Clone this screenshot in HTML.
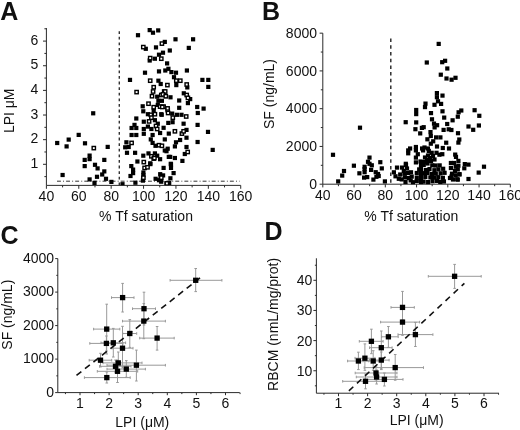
<!DOCTYPE html>
<html><head><meta charset="utf-8"><style>html,body{margin:0;padding:0;background:#fff;width:520px;height:430px;overflow:hidden}svg{display:block;filter:blur(0.3px)}text{font-family:"Liberation Sans", sans-serif}</style></head><body>
<svg width="520" height="430" viewBox="0 0 520 430" font-family='"Liberation Sans", sans-serif' fill="#111">
<rect width="520" height="430" fill="#fff"/>
<text x="0.30" y="19.60" font-size="25" text-anchor="start" font-weight="bold" >A</text>
<text x="262.00" y="19.60" font-size="25" text-anchor="start" font-weight="bold" >B</text>
<text x="0.60" y="244.30" font-size="25" text-anchor="start" font-weight="bold" >C</text>
<text x="264.60" y="239.60" font-size="25" text-anchor="start" font-weight="bold" >D</text>
<line x1="46.40" y1="185.39" x2="240.72" y2="185.39" stroke="#2a2a2a" stroke-width="1" />
<line x1="46.40" y1="185.39" x2="46.40" y2="28.04" stroke="#2a2a2a" stroke-width="1" />
<line x1="46.40" y1="185.39" x2="46.40" y2="188.79" stroke="#2a2a2a" stroke-width="1" />
<text x="46.40" y="201.40" font-size="14" text-anchor="middle" font-weight="normal" >40</text>
<line x1="78.79" y1="185.39" x2="78.79" y2="188.79" stroke="#2a2a2a" stroke-width="1" />
<text x="78.79" y="201.40" font-size="14" text-anchor="middle" font-weight="normal" >60</text>
<line x1="111.17" y1="185.39" x2="111.17" y2="188.79" stroke="#2a2a2a" stroke-width="1" />
<text x="111.17" y="201.40" font-size="14" text-anchor="middle" font-weight="normal" >80</text>
<line x1="143.56" y1="185.39" x2="143.56" y2="188.79" stroke="#2a2a2a" stroke-width="1" />
<text x="143.56" y="201.40" font-size="14" text-anchor="middle" font-weight="normal" >100</text>
<line x1="175.94" y1="185.39" x2="175.94" y2="188.79" stroke="#2a2a2a" stroke-width="1" />
<text x="175.94" y="201.40" font-size="14" text-anchor="middle" font-weight="normal" >120</text>
<line x1="208.33" y1="185.39" x2="208.33" y2="188.79" stroke="#2a2a2a" stroke-width="1" />
<text x="208.33" y="201.40" font-size="14" text-anchor="middle" font-weight="normal" >140</text>
<line x1="240.72" y1="185.39" x2="240.72" y2="188.79" stroke="#2a2a2a" stroke-width="1" />
<text x="240.72" y="201.40" font-size="14" text-anchor="middle" font-weight="normal" >160</text>
<line x1="62.59" y1="185.39" x2="62.59" y2="187.39" stroke="#2a2a2a" stroke-width="1" />
<line x1="94.98" y1="185.39" x2="94.98" y2="187.39" stroke="#2a2a2a" stroke-width="1" />
<line x1="127.37" y1="185.39" x2="127.37" y2="187.39" stroke="#2a2a2a" stroke-width="1" />
<line x1="159.75" y1="185.39" x2="159.75" y2="187.39" stroke="#2a2a2a" stroke-width="1" />
<line x1="192.14" y1="185.39" x2="192.14" y2="187.39" stroke="#2a2a2a" stroke-width="1" />
<line x1="224.52" y1="185.39" x2="224.52" y2="187.39" stroke="#2a2a2a" stroke-width="1" />
<line x1="43.00" y1="164.30" x2="46.40" y2="164.30" stroke="#2a2a2a" stroke-width="1" />
<text x="38.30" y="167.90" font-size="14" text-anchor="end" font-weight="normal" >1</text>
<line x1="43.00" y1="139.66" x2="46.40" y2="139.66" stroke="#2a2a2a" stroke-width="1" />
<text x="38.30" y="143.26" font-size="14" text-anchor="end" font-weight="normal" >2</text>
<line x1="43.00" y1="115.02" x2="46.40" y2="115.02" stroke="#2a2a2a" stroke-width="1" />
<text x="38.30" y="118.62" font-size="14" text-anchor="end" font-weight="normal" >3</text>
<line x1="43.00" y1="90.38" x2="46.40" y2="90.38" stroke="#2a2a2a" stroke-width="1" />
<text x="38.30" y="93.98" font-size="14" text-anchor="end" font-weight="normal" >4</text>
<line x1="43.00" y1="65.74" x2="46.40" y2="65.74" stroke="#2a2a2a" stroke-width="1" />
<text x="38.30" y="69.34" font-size="14" text-anchor="end" font-weight="normal" >5</text>
<line x1="43.00" y1="41.10" x2="46.40" y2="41.10" stroke="#2a2a2a" stroke-width="1" />
<text x="38.30" y="44.70" font-size="14" text-anchor="end" font-weight="normal" >6</text>
<line x1="44.40" y1="176.62" x2="46.40" y2="176.62" stroke="#2a2a2a" stroke-width="1" />
<line x1="44.40" y1="151.98" x2="46.40" y2="151.98" stroke="#2a2a2a" stroke-width="1" />
<line x1="44.40" y1="127.34" x2="46.40" y2="127.34" stroke="#2a2a2a" stroke-width="1" />
<line x1="44.40" y1="102.70" x2="46.40" y2="102.70" stroke="#2a2a2a" stroke-width="1" />
<line x1="44.40" y1="78.06" x2="46.40" y2="78.06" stroke="#2a2a2a" stroke-width="1" />
<line x1="44.40" y1="53.42" x2="46.40" y2="53.42" stroke="#2a2a2a" stroke-width="1" />
<line x1="44.40" y1="28.78" x2="46.40" y2="28.78" stroke="#2a2a2a" stroke-width="1" />
<line x1="322.80" y1="184.20" x2="510.30" y2="184.20" stroke="#2a2a2a" stroke-width="1" />
<line x1="322.80" y1="184.20" x2="322.80" y2="33.16" stroke="#2a2a2a" stroke-width="1" />
<line x1="322.80" y1="184.20" x2="322.80" y2="187.40" stroke="#2a2a2a" stroke-width="1" />
<text x="322.80" y="200.00" font-size="14" text-anchor="middle" font-weight="normal" >40</text>
<line x1="354.05" y1="184.20" x2="354.05" y2="187.40" stroke="#2a2a2a" stroke-width="1" />
<text x="354.05" y="200.00" font-size="14" text-anchor="middle" font-weight="normal" >60</text>
<line x1="385.30" y1="184.20" x2="385.30" y2="187.40" stroke="#2a2a2a" stroke-width="1" />
<text x="385.30" y="200.00" font-size="14" text-anchor="middle" font-weight="normal" >80</text>
<line x1="416.55" y1="184.20" x2="416.55" y2="187.40" stroke="#2a2a2a" stroke-width="1" />
<text x="416.55" y="200.00" font-size="14" text-anchor="middle" font-weight="normal" >100</text>
<line x1="447.80" y1="184.20" x2="447.80" y2="187.40" stroke="#2a2a2a" stroke-width="1" />
<text x="447.80" y="200.00" font-size="14" text-anchor="middle" font-weight="normal" >120</text>
<line x1="479.05" y1="184.20" x2="479.05" y2="187.40" stroke="#2a2a2a" stroke-width="1" />
<text x="479.05" y="200.00" font-size="14" text-anchor="middle" font-weight="normal" >140</text>
<line x1="510.30" y1="184.20" x2="510.30" y2="187.40" stroke="#2a2a2a" stroke-width="1" />
<text x="510.30" y="200.00" font-size="14" text-anchor="middle" font-weight="normal" >160</text>
<line x1="338.43" y1="184.20" x2="338.43" y2="186.20" stroke="#2a2a2a" stroke-width="1" />
<line x1="369.68" y1="184.20" x2="369.68" y2="186.20" stroke="#2a2a2a" stroke-width="1" />
<line x1="400.93" y1="184.20" x2="400.93" y2="186.20" stroke="#2a2a2a" stroke-width="1" />
<line x1="432.18" y1="184.20" x2="432.18" y2="186.20" stroke="#2a2a2a" stroke-width="1" />
<line x1="463.43" y1="184.20" x2="463.43" y2="186.20" stroke="#2a2a2a" stroke-width="1" />
<line x1="494.68" y1="184.20" x2="494.68" y2="186.20" stroke="#2a2a2a" stroke-width="1" />
<line x1="319.60" y1="184.20" x2="322.80" y2="184.20" stroke="#2a2a2a" stroke-width="1" />
<text x="317.00" y="188.80" font-size="14" text-anchor="end" font-weight="normal" >0</text>
<line x1="319.60" y1="146.44" x2="322.80" y2="146.44" stroke="#2a2a2a" stroke-width="1" />
<text x="317.00" y="151.04" font-size="14" text-anchor="end" font-weight="normal" >2000</text>
<line x1="319.60" y1="108.68" x2="322.80" y2="108.68" stroke="#2a2a2a" stroke-width="1" />
<text x="317.00" y="113.28" font-size="14" text-anchor="end" font-weight="normal" >4000</text>
<line x1="319.60" y1="70.92" x2="322.80" y2="70.92" stroke="#2a2a2a" stroke-width="1" />
<text x="317.00" y="75.52" font-size="14" text-anchor="end" font-weight="normal" >6000</text>
<line x1="319.60" y1="33.16" x2="322.80" y2="33.16" stroke="#2a2a2a" stroke-width="1" />
<text x="317.00" y="37.76" font-size="14" text-anchor="end" font-weight="normal" >8000</text>
<line x1="320.80" y1="165.32" x2="322.80" y2="165.32" stroke="#2a2a2a" stroke-width="1" />
<line x1="320.80" y1="127.56" x2="322.80" y2="127.56" stroke="#2a2a2a" stroke-width="1" />
<line x1="320.80" y1="89.80" x2="322.80" y2="89.80" stroke="#2a2a2a" stroke-width="1" />
<line x1="320.80" y1="52.04" x2="322.80" y2="52.04" stroke="#2a2a2a" stroke-width="1" />
<line x1="57.80" y1="392.60" x2="239.76" y2="392.60" stroke="#2a2a2a" stroke-width="1" />
<line x1="57.80" y1="392.60" x2="57.80" y2="258.60" stroke="#2a2a2a" stroke-width="1" />
<line x1="80.00" y1="392.60" x2="80.00" y2="395.20" stroke="#2a2a2a" stroke-width="1" />
<text x="80.00" y="408.30" font-size="14" text-anchor="middle" font-weight="normal" >1</text>
<line x1="109.10" y1="392.60" x2="109.10" y2="395.20" stroke="#2a2a2a" stroke-width="1" />
<text x="109.10" y="408.30" font-size="14" text-anchor="middle" font-weight="normal" >2</text>
<line x1="138.20" y1="392.60" x2="138.20" y2="395.20" stroke="#2a2a2a" stroke-width="1" />
<text x="138.20" y="408.30" font-size="14" text-anchor="middle" font-weight="normal" >3</text>
<line x1="167.30" y1="392.60" x2="167.30" y2="395.20" stroke="#2a2a2a" stroke-width="1" />
<text x="167.30" y="408.30" font-size="14" text-anchor="middle" font-weight="normal" >4</text>
<line x1="196.40" y1="392.60" x2="196.40" y2="395.20" stroke="#2a2a2a" stroke-width="1" />
<text x="196.40" y="408.30" font-size="14" text-anchor="middle" font-weight="normal" >5</text>
<line x1="225.50" y1="392.60" x2="225.50" y2="395.20" stroke="#2a2a2a" stroke-width="1" />
<text x="225.50" y="408.30" font-size="14" text-anchor="middle" font-weight="normal" >6</text>
<line x1="65.45" y1="392.60" x2="65.45" y2="394.10" stroke="#2a2a2a" stroke-width="1" />
<line x1="94.55" y1="392.60" x2="94.55" y2="394.10" stroke="#2a2a2a" stroke-width="1" />
<line x1="123.65" y1="392.60" x2="123.65" y2="394.10" stroke="#2a2a2a" stroke-width="1" />
<line x1="152.75" y1="392.60" x2="152.75" y2="394.10" stroke="#2a2a2a" stroke-width="1" />
<line x1="181.85" y1="392.60" x2="181.85" y2="394.10" stroke="#2a2a2a" stroke-width="1" />
<line x1="210.95" y1="392.60" x2="210.95" y2="394.10" stroke="#2a2a2a" stroke-width="1" />
<line x1="240.05" y1="392.60" x2="240.05" y2="394.10" stroke="#2a2a2a" stroke-width="1" />
<line x1="55.20" y1="392.60" x2="57.80" y2="392.60" stroke="#2a2a2a" stroke-width="1" />
<text x="54.10" y="396.80" font-size="14" text-anchor="end" font-weight="normal" >0</text>
<line x1="55.20" y1="359.10" x2="57.80" y2="359.10" stroke="#2a2a2a" stroke-width="1" />
<text x="54.10" y="363.30" font-size="14" text-anchor="end" font-weight="normal" >1000</text>
<line x1="55.20" y1="325.60" x2="57.80" y2="325.60" stroke="#2a2a2a" stroke-width="1" />
<text x="54.10" y="329.80" font-size="14" text-anchor="end" font-weight="normal" >2000</text>
<line x1="55.20" y1="292.10" x2="57.80" y2="292.10" stroke="#2a2a2a" stroke-width="1" />
<text x="54.10" y="296.30" font-size="14" text-anchor="end" font-weight="normal" >3000</text>
<line x1="55.20" y1="258.60" x2="57.80" y2="258.60" stroke="#2a2a2a" stroke-width="1" />
<text x="54.10" y="262.80" font-size="14" text-anchor="end" font-weight="normal" >4000</text>
<line x1="56.30" y1="375.85" x2="57.80" y2="375.85" stroke="#2a2a2a" stroke-width="1" />
<line x1="56.30" y1="342.35" x2="57.80" y2="342.35" stroke="#2a2a2a" stroke-width="1" />
<line x1="56.30" y1="308.85" x2="57.80" y2="308.85" stroke="#2a2a2a" stroke-width="1" />
<line x1="56.30" y1="275.35" x2="57.80" y2="275.35" stroke="#2a2a2a" stroke-width="1" />
<line x1="316.38" y1="393.21" x2="498.99" y2="393.21" stroke="#2a2a2a" stroke-width="1" />
<line x1="316.38" y1="393.21" x2="316.38" y2="258.29" stroke="#2a2a2a" stroke-width="1" />
<line x1="338.50" y1="393.21" x2="338.50" y2="396.21" stroke="#2a2a2a" stroke-width="1" />
<text x="338.50" y="408.40" font-size="14" text-anchor="middle" font-weight="normal" >1</text>
<line x1="367.60" y1="393.21" x2="367.60" y2="396.21" stroke="#2a2a2a" stroke-width="1" />
<text x="367.60" y="408.40" font-size="14" text-anchor="middle" font-weight="normal" >2</text>
<line x1="396.70" y1="393.21" x2="396.70" y2="396.21" stroke="#2a2a2a" stroke-width="1" />
<text x="396.70" y="408.40" font-size="14" text-anchor="middle" font-weight="normal" >3</text>
<line x1="425.80" y1="393.21" x2="425.80" y2="396.21" stroke="#2a2a2a" stroke-width="1" />
<text x="425.80" y="408.40" font-size="14" text-anchor="middle" font-weight="normal" >4</text>
<line x1="454.90" y1="393.21" x2="454.90" y2="396.21" stroke="#2a2a2a" stroke-width="1" />
<text x="454.90" y="408.40" font-size="14" text-anchor="middle" font-weight="normal" >5</text>
<line x1="484.00" y1="393.21" x2="484.00" y2="396.21" stroke="#2a2a2a" stroke-width="1" />
<text x="484.00" y="408.40" font-size="14" text-anchor="middle" font-weight="normal" >6</text>
<line x1="323.95" y1="393.21" x2="323.95" y2="394.71" stroke="#2a2a2a" stroke-width="1" />
<line x1="353.05" y1="393.21" x2="353.05" y2="394.71" stroke="#2a2a2a" stroke-width="1" />
<line x1="382.15" y1="393.21" x2="382.15" y2="394.71" stroke="#2a2a2a" stroke-width="1" />
<line x1="411.25" y1="393.21" x2="411.25" y2="394.71" stroke="#2a2a2a" stroke-width="1" />
<line x1="440.35" y1="393.21" x2="440.35" y2="394.71" stroke="#2a2a2a" stroke-width="1" />
<line x1="469.45" y1="393.21" x2="469.45" y2="394.71" stroke="#2a2a2a" stroke-width="1" />
<line x1="498.55" y1="393.21" x2="498.55" y2="394.71" stroke="#2a2a2a" stroke-width="1" />
<line x1="313.38" y1="370.75" x2="316.38" y2="370.75" stroke="#2a2a2a" stroke-width="1" />
<text x="312.38" y="375.75" font-size="14" text-anchor="end" font-weight="normal" >10</text>
<line x1="313.38" y1="340.60" x2="316.38" y2="340.60" stroke="#2a2a2a" stroke-width="1" />
<text x="312.38" y="345.60" font-size="14" text-anchor="end" font-weight="normal" >20</text>
<line x1="313.38" y1="310.45" x2="316.38" y2="310.45" stroke="#2a2a2a" stroke-width="1" />
<text x="312.38" y="315.45" font-size="14" text-anchor="end" font-weight="normal" >30</text>
<line x1="313.38" y1="280.30" x2="316.38" y2="280.30" stroke="#2a2a2a" stroke-width="1" />
<text x="312.38" y="285.30" font-size="14" text-anchor="end" font-weight="normal" >40</text>
<line x1="314.88" y1="385.82" x2="316.38" y2="385.82" stroke="#2a2a2a" stroke-width="1" />
<line x1="314.88" y1="355.67" x2="316.38" y2="355.67" stroke="#2a2a2a" stroke-width="1" />
<line x1="314.88" y1="325.52" x2="316.38" y2="325.52" stroke="#2a2a2a" stroke-width="1" />
<line x1="314.88" y1="295.38" x2="316.38" y2="295.38" stroke="#2a2a2a" stroke-width="1" />
<line x1="314.88" y1="265.22" x2="316.38" y2="265.22" stroke="#2a2a2a" stroke-width="1" />
<text x="146.00" y="220.50" font-size="14" text-anchor="middle" font-weight="normal" >% Tf saturation</text>
<text x="411.30" y="220.70" font-size="14" text-anchor="middle" font-weight="normal" >% Tf saturation</text>
<text x="142.30" y="427.00" font-size="14" text-anchor="middle" font-weight="normal" >LPI (&#956;M)</text>
<text x="416.70" y="425.30" font-size="14" text-anchor="middle" font-weight="normal" >LPI (&#956;M)</text>
<text transform="translate(14.2,110.8) rotate(-90)" font-size="14" text-anchor="middle">LPI &#956;M</text>
<text transform="translate(273.6,94) rotate(-90)" font-size="14" text-anchor="middle">SF (ng/mL)</text>
<text transform="translate(11.6,314.7) rotate(-90)" font-size="14" text-anchor="middle">SF (ng/mL)</text>
<text transform="translate(277.8,324.4) rotate(-90)" font-size="14" text-anchor="middle">RBCM (nmL/mg/prot)</text>
<line x1="119.30" y1="31.20" x2="119.30" y2="185.40" stroke="#333" stroke-width="1.4" stroke-dasharray="2.8 2.8"/>
<line x1="57.00" y1="181.20" x2="239.50" y2="181.20" stroke="#333" stroke-width="1" stroke-dasharray="3.9 2.2 0.9 2.1"/>
<line x1="390.80" y1="38.60" x2="390.80" y2="184.00" stroke="#222" stroke-width="1.4" stroke-dasharray="3.5 3.2"/>
<defs><clipPath id="ca"><rect x="40" y="28" width="210" height="157.2"/></clipPath></defs>
<g clip-path="url(#ca)">
<rect x="55.10" y="140.90" width="4.2" height="4.2" fill="#000"/>
<rect x="66.60" y="137.50" width="4.2" height="4.2" fill="#000"/>
<rect x="64.50" y="144.30" width="4.2" height="4.2" fill="#000"/>
<rect x="76.60" y="132.80" width="4.2" height="4.2" fill="#000"/>
<rect x="82.90" y="141.20" width="4.2" height="4.2" fill="#000"/>
<rect x="105.60" y="144.80" width="4.2" height="4.2" fill="#000"/>
<rect x="87.50" y="153.50" width="4.2" height="4.2" fill="#000"/>
<rect x="82.60" y="157.80" width="4.2" height="4.2" fill="#000"/>
<rect x="87.50" y="157.00" width="4.2" height="4.2" fill="#000"/>
<rect x="102.20" y="157.80" width="4.2" height="4.2" fill="#000"/>
<rect x="82.60" y="164.00" width="4.2" height="4.2" fill="#000"/>
<rect x="92.90" y="162.70" width="4.2" height="4.2" fill="#000"/>
<rect x="95.50" y="166.30" width="4.2" height="4.2" fill="#000"/>
<rect x="102.20" y="169.30" width="4.2" height="4.2" fill="#000"/>
<rect x="60.50" y="172.90" width="4.2" height="4.2" fill="#000"/>
<rect x="100.10" y="172.40" width="4.2" height="4.2" fill="#000"/>
<rect x="94.90" y="174.70" width="4.2" height="4.2" fill="#000"/>
<rect x="103.90" y="176.70" width="4.2" height="4.2" fill="#000"/>
<rect x="87.50" y="177.30" width="4.2" height="4.2" fill="#000"/>
<rect x="92.40" y="180.80" width="4.2" height="4.2" fill="#000"/>
<rect x="109.30" y="179.80" width="4.2" height="4.2" fill="#000"/>
<rect x="91.10" y="111.20" width="4.2" height="4.2" fill="#000"/>
<rect x="135.90" y="33.10" width="4.2" height="4.2" fill="#000"/>
<rect x="147.60" y="28.00" width="4.2" height="4.2" fill="#000"/>
<rect x="150.90" y="30.60" width="4.2" height="4.2" fill="#000"/>
<rect x="156.10" y="28.30" width="4.2" height="4.2" fill="#000"/>
<rect x="162.70" y="39.80" width="4.2" height="4.2" fill="#000"/>
<rect x="143.70" y="46.70" width="4.2" height="4.2" fill="#000"/>
<rect x="153.90" y="45.30" width="4.2" height="4.2" fill="#000"/>
<rect x="167.70" y="48.40" width="4.2" height="4.2" fill="#000"/>
<rect x="156.90" y="52.60" width="4.2" height="4.2" fill="#000"/>
<rect x="160.90" y="50.60" width="4.2" height="4.2" fill="#000"/>
<rect x="152.80" y="56.60" width="4.2" height="4.2" fill="#000"/>
<rect x="147.60" y="58.40" width="4.2" height="4.2" fill="#000"/>
<rect x="165.00" y="61.30" width="4.2" height="4.2" fill="#000"/>
<rect x="142.90" y="70.60" width="4.2" height="4.2" fill="#000"/>
<rect x="156.90" y="69.30" width="4.2" height="4.2" fill="#000"/>
<rect x="163.20" y="68.40" width="4.2" height="4.2" fill="#000"/>
<rect x="166.30" y="66.70" width="4.2" height="4.2" fill="#000"/>
<rect x="173.40" y="37.20" width="4.2" height="4.2" fill="#000"/>
<rect x="191.00" y="37.20" width="4.2" height="4.2" fill="#000"/>
<rect x="186.70" y="45.80" width="4.2" height="4.2" fill="#000"/>
<rect x="169.30" y="70.00" width="4.2" height="4.2" fill="#000"/>
<rect x="173.90" y="70.60" width="4.2" height="4.2" fill="#000"/>
<rect x="184.80" y="68.40" width="4.2" height="4.2" fill="#000"/>
<rect x="127.90" y="77.80" width="4.2" height="4.2" fill="#000"/>
<rect x="156.30" y="78.60" width="4.2" height="4.2" fill="#000"/>
<rect x="158.60" y="81.90" width="4.2" height="4.2" fill="#000"/>
<rect x="155.10" y="94.60" width="4.2" height="4.2" fill="#000"/>
<rect x="163.80" y="94.10" width="4.2" height="4.2" fill="#000"/>
<rect x="156.30" y="98.70" width="4.2" height="4.2" fill="#000"/>
<rect x="159.80" y="98.70" width="4.2" height="4.2" fill="#000"/>
<rect x="155.70" y="102.80" width="4.2" height="4.2" fill="#000"/>
<rect x="151.60" y="108.60" width="4.2" height="4.2" fill="#000"/>
<rect x="140.60" y="104.20" width="4.2" height="4.2" fill="#000"/>
<rect x="141.20" y="109.20" width="4.2" height="4.2" fill="#000"/>
<rect x="134.20" y="116.40" width="4.2" height="4.2" fill="#000"/>
<rect x="159.20" y="112.10" width="4.2" height="4.2" fill="#000"/>
<rect x="145.80" y="112.10" width="4.2" height="4.2" fill="#000"/>
<rect x="171.90" y="75.10" width="4.2" height="4.2" fill="#000"/>
<rect x="174.20" y="83.00" width="4.2" height="4.2" fill="#000"/>
<rect x="185.20" y="85.30" width="4.2" height="4.2" fill="#000"/>
<rect x="200.30" y="77.80" width="4.2" height="4.2" fill="#000"/>
<rect x="206.20" y="77.80" width="4.2" height="4.2" fill="#000"/>
<rect x="206.20" y="84.80" width="4.2" height="4.2" fill="#000"/>
<rect x="168.40" y="95.20" width="4.2" height="4.2" fill="#000"/>
<rect x="177.10" y="98.40" width="4.2" height="4.2" fill="#000"/>
<rect x="181.70" y="91.20" width="4.2" height="4.2" fill="#000"/>
<rect x="188.10" y="97.00" width="4.2" height="4.2" fill="#000"/>
<rect x="185.80" y="101.00" width="4.2" height="4.2" fill="#000"/>
<rect x="195.10" y="104.90" width="4.2" height="4.2" fill="#000"/>
<rect x="201.50" y="106.50" width="4.2" height="4.2" fill="#000"/>
<rect x="195.70" y="110.90" width="4.2" height="4.2" fill="#000"/>
<rect x="177.10" y="105.70" width="4.2" height="4.2" fill="#000"/>
<rect x="159.60" y="112.70" width="4.2" height="4.2" fill="#000"/>
<rect x="170.10" y="111.50" width="4.2" height="4.2" fill="#000"/>
<rect x="174.80" y="112.70" width="4.2" height="4.2" fill="#000"/>
<rect x="179.40" y="112.70" width="4.2" height="4.2" fill="#000"/>
<rect x="141.70" y="119.60" width="4.2" height="4.2" fill="#000"/>
<rect x="152.80" y="118.10" width="4.2" height="4.2" fill="#000"/>
<rect x="155.70" y="121.60" width="4.2" height="4.2" fill="#000"/>
<rect x="166.20" y="120.80" width="4.2" height="4.2" fill="#000"/>
<rect x="132.40" y="122.80" width="4.2" height="4.2" fill="#000"/>
<rect x="129.50" y="125.90" width="4.2" height="4.2" fill="#000"/>
<rect x="134.20" y="125.90" width="4.2" height="4.2" fill="#000"/>
<rect x="141.70" y="126.90" width="4.2" height="4.2" fill="#000"/>
<rect x="145.80" y="124.50" width="4.2" height="4.2" fill="#000"/>
<rect x="149.30" y="126.90" width="4.2" height="4.2" fill="#000"/>
<rect x="161.50" y="125.70" width="4.2" height="4.2" fill="#000"/>
<rect x="129.50" y="132.90" width="4.2" height="4.2" fill="#000"/>
<rect x="134.20" y="132.90" width="4.2" height="4.2" fill="#000"/>
<rect x="141.70" y="131.70" width="4.2" height="4.2" fill="#000"/>
<rect x="150.50" y="132.90" width="4.2" height="4.2" fill="#000"/>
<rect x="158.00" y="130.90" width="4.2" height="4.2" fill="#000"/>
<rect x="166.70" y="131.50" width="4.2" height="4.2" fill="#000"/>
<rect x="148.70" y="137.30" width="4.2" height="4.2" fill="#000"/>
<rect x="162.70" y="137.30" width="4.2" height="4.2" fill="#000"/>
<rect x="124.30" y="140.20" width="4.2" height="4.2" fill="#000"/>
<rect x="150.50" y="140.80" width="4.2" height="4.2" fill="#000"/>
<rect x="123.10" y="145.20" width="4.2" height="4.2" fill="#000"/>
<rect x="126.60" y="144.90" width="4.2" height="4.2" fill="#000"/>
<rect x="153.40" y="143.70" width="4.2" height="4.2" fill="#000"/>
<rect x="165.60" y="146.60" width="4.2" height="4.2" fill="#000"/>
<rect x="162.70" y="148.40" width="4.2" height="4.2" fill="#000"/>
<rect x="124.90" y="150.70" width="4.2" height="4.2" fill="#000"/>
<rect x="133.00" y="150.70" width="4.2" height="4.2" fill="#000"/>
<rect x="141.20" y="153.60" width="4.2" height="4.2" fill="#000"/>
<rect x="146.40" y="151.30" width="4.2" height="4.2" fill="#000"/>
<rect x="152.80" y="151.30" width="4.2" height="4.2" fill="#000"/>
<rect x="155.10" y="153.60" width="4.2" height="4.2" fill="#000"/>
<rect x="158.00" y="157.10" width="4.2" height="4.2" fill="#000"/>
<rect x="135.30" y="159.40" width="4.2" height="4.2" fill="#000"/>
<rect x="148.10" y="161.20" width="4.2" height="4.2" fill="#000"/>
<rect x="166.70" y="154.80" width="4.2" height="4.2" fill="#000"/>
<rect x="170.50" y="120.10" width="4.2" height="4.2" fill="#000"/>
<rect x="181.50" y="121.60" width="4.2" height="4.2" fill="#000"/>
<rect x="195.50" y="122.80" width="4.2" height="4.2" fill="#000"/>
<rect x="184.40" y="127.80" width="4.2" height="4.2" fill="#000"/>
<rect x="205.90" y="129.80" width="4.2" height="4.2" fill="#000"/>
<rect x="178.00" y="137.90" width="4.2" height="4.2" fill="#000"/>
<rect x="184.40" y="135.60" width="4.2" height="4.2" fill="#000"/>
<rect x="173.90" y="140.20" width="4.2" height="4.2" fill="#000"/>
<rect x="195.50" y="139.90" width="4.2" height="4.2" fill="#000"/>
<rect x="172.80" y="144.30" width="4.2" height="4.2" fill="#000"/>
<rect x="184.40" y="144.90" width="4.2" height="4.2" fill="#000"/>
<rect x="182.70" y="151.90" width="4.2" height="4.2" fill="#000"/>
<rect x="210.60" y="147.80" width="4.2" height="4.2" fill="#000"/>
<rect x="168.10" y="154.80" width="4.2" height="4.2" fill="#000"/>
<rect x="172.80" y="155.90" width="4.2" height="4.2" fill="#000"/>
<rect x="180.30" y="158.80" width="4.2" height="4.2" fill="#000"/>
<rect x="168.70" y="161.70" width="4.2" height="4.2" fill="#000"/>
<rect x="129.20" y="164.00" width="4.2" height="4.2" fill="#000"/>
<rect x="131.00" y="167.50" width="4.2" height="4.2" fill="#000"/>
<rect x="131.00" y="171.00" width="4.2" height="4.2" fill="#000"/>
<rect x="128.40" y="173.90" width="4.2" height="4.2" fill="#000"/>
<rect x="148.30" y="162.00" width="4.2" height="4.2" fill="#000"/>
<rect x="141.30" y="170.40" width="4.2" height="4.2" fill="#000"/>
<rect x="141.30" y="172.90" width="4.2" height="4.2" fill="#000"/>
<rect x="140.80" y="178.50" width="4.2" height="4.2" fill="#000"/>
<rect x="161.50" y="165.80" width="4.2" height="4.2" fill="#000"/>
<rect x="158.10" y="172.10" width="4.2" height="4.2" fill="#000"/>
<rect x="161.00" y="173.30" width="4.2" height="4.2" fill="#000"/>
<rect x="153.50" y="176.70" width="4.2" height="4.2" fill="#000"/>
<rect x="156.90" y="178.10" width="4.2" height="4.2" fill="#000"/>
<rect x="164.40" y="149.10" width="4.2" height="4.2" fill="#000"/>
<rect x="168.90" y="162.30" width="4.2" height="4.2" fill="#000"/>
<rect x="168.90" y="165.80" width="4.2" height="4.2" fill="#000"/>
<rect x="171.50" y="171.00" width="4.2" height="4.2" fill="#000"/>
<rect x="168.30" y="176.20" width="4.2" height="4.2" fill="#000"/>
<rect x="158.50" y="176.20" width="4.2" height="4.2" fill="#000"/>
<rect x="120.40" y="182.10" width="4.2" height="4.2" fill="#000"/>
<rect x="133.30" y="180.60" width="4.2" height="4.2" fill="#000"/>
<rect x="164.40" y="181.30" width="4.2" height="4.2" fill="#000"/>
<rect x="167.10" y="180.80" width="4.2" height="4.2" fill="#000"/>
<rect x="159.10" y="179.60" width="4.2" height="4.2" fill="#000"/>
<rect x="92.15" y="146.45" width="3.3" height="3.3" fill="#fff" stroke="#000" stroke-width="1.4"/>
<rect x="160.25" y="41.95" width="3.3" height="3.3" fill="#fff" stroke="#000" stroke-width="1.4"/>
<rect x="141.65" y="45.45" width="3.3" height="3.3" fill="#fff" stroke="#000" stroke-width="1.4"/>
<rect x="148.55" y="56.45" width="3.3" height="3.3" fill="#fff" stroke="#000" stroke-width="1.4"/>
<rect x="159.65" y="57.05" width="3.3" height="3.3" fill="#fff" stroke="#000" stroke-width="1.4"/>
<rect x="134.95" y="90.45" width="3.3" height="3.3" fill="#fff" stroke="#000" stroke-width="1.4"/>
<rect x="148.55" y="79.05" width="3.3" height="3.3" fill="#fff" stroke="#000" stroke-width="1.4"/>
<rect x="165.75" y="83.45" width="3.3" height="3.3" fill="#fff" stroke="#000" stroke-width="1.4"/>
<rect x="152.05" y="85.55" width="3.3" height="3.3" fill="#fff" stroke="#000" stroke-width="1.4"/>
<rect x="151.45" y="89.85" width="3.3" height="3.3" fill="#fff" stroke="#000" stroke-width="1.4"/>
<rect x="162.55" y="89.85" width="3.3" height="3.3" fill="#fff" stroke="#000" stroke-width="1.4"/>
<rect x="150.35" y="94.55" width="3.3" height="3.3" fill="#fff" stroke="#000" stroke-width="1.4"/>
<rect x="159.65" y="93.35" width="3.3" height="3.3" fill="#fff" stroke="#000" stroke-width="1.4"/>
<rect x="146.85" y="102.05" width="3.3" height="3.3" fill="#fff" stroke="#000" stroke-width="1.4"/>
<rect x="152.05" y="105.55" width="3.3" height="3.3" fill="#fff" stroke="#000" stroke-width="1.4"/>
<rect x="158.45" y="104.95" width="3.3" height="3.3" fill="#fff" stroke="#000" stroke-width="1.4"/>
<rect x="161.95" y="104.95" width="3.3" height="3.3" fill="#fff" stroke="#000" stroke-width="1.4"/>
<rect x="166.05" y="108.45" width="3.3" height="3.3" fill="#fff" stroke="#000" stroke-width="1.4"/>
<rect x="149.15" y="113.15" width="3.3" height="3.3" fill="#fff" stroke="#000" stroke-width="1.4"/>
<rect x="153.25" y="112.55" width="3.3" height="3.3" fill="#fff" stroke="#000" stroke-width="1.4"/>
<rect x="149.75" y="116.05" width="3.3" height="3.3" fill="#fff" stroke="#000" stroke-width="1.4"/>
<rect x="174.65" y="79.05" width="3.3" height="3.3" fill="#fff" stroke="#000" stroke-width="1.4"/>
<rect x="178.65" y="79.05" width="3.3" height="3.3" fill="#fff" stroke="#000" stroke-width="1.4"/>
<rect x="185.05" y="82.85" width="3.3" height="3.3" fill="#fff" stroke="#000" stroke-width="1.4"/>
<rect x="163.55" y="89.85" width="3.3" height="3.3" fill="#fff" stroke="#000" stroke-width="1.4"/>
<rect x="161.25" y="92.75" width="3.3" height="3.3" fill="#fff" stroke="#000" stroke-width="1.4"/>
<rect x="164.15" y="94.55" width="3.3" height="3.3" fill="#fff" stroke="#000" stroke-width="1.4"/>
<rect x="185.05" y="93.35" width="3.3" height="3.3" fill="#fff" stroke="#000" stroke-width="1.4"/>
<rect x="186.25" y="96.25" width="3.3" height="3.3" fill="#fff" stroke="#000" stroke-width="1.4"/>
<rect x="160.65" y="105.35" width="3.3" height="3.3" fill="#fff" stroke="#000" stroke-width="1.4"/>
<rect x="165.95" y="106.75" width="3.3" height="3.3" fill="#fff" stroke="#000" stroke-width="1.4"/>
<rect x="166.45" y="111.35" width="3.3" height="3.3" fill="#fff" stroke="#000" stroke-width="1.4"/>
<rect x="184.55" y="114.85" width="3.3" height="3.3" fill="#fff" stroke="#000" stroke-width="1.4"/>
<rect x="171.15" y="116.05" width="3.3" height="3.3" fill="#fff" stroke="#000" stroke-width="1.4"/>
<rect x="147.45" y="119.75" width="3.3" height="3.3" fill="#fff" stroke="#000" stroke-width="1.4"/>
<rect x="154.35" y="124.35" width="3.3" height="3.3" fill="#fff" stroke="#000" stroke-width="1.4"/>
<rect x="155.55" y="127.35" width="3.3" height="3.3" fill="#fff" stroke="#000" stroke-width="1.4"/>
<rect x="129.95" y="141.25" width="3.3" height="3.3" fill="#fff" stroke="#000" stroke-width="1.4"/>
<rect x="157.35" y="143.55" width="3.3" height="3.3" fill="#fff" stroke="#000" stroke-width="1.4"/>
<rect x="160.25" y="144.15" width="3.3" height="3.3" fill="#fff" stroke="#000" stroke-width="1.4"/>
<rect x="149.75" y="154.65" width="3.3" height="3.3" fill="#fff" stroke="#000" stroke-width="1.4"/>
<rect x="152.05" y="156.95" width="3.3" height="3.3" fill="#fff" stroke="#000" stroke-width="1.4"/>
<rect x="142.15" y="160.45" width="3.3" height="3.3" fill="#fff" stroke="#000" stroke-width="1.4"/>
<rect x="173.25" y="129.65" width="3.3" height="3.3" fill="#fff" stroke="#000" stroke-width="1.4"/>
<rect x="180.25" y="131.95" width="3.3" height="3.3" fill="#fff" stroke="#000" stroke-width="1.4"/>
<rect x="181.95" y="129.65" width="3.3" height="3.3" fill="#fff" stroke="#000" stroke-width="1.4"/>
<rect x="186.05" y="150.35" width="3.3" height="3.3" fill="#fff" stroke="#000" stroke-width="1.4"/>
<rect x="142.95" y="166.25" width="3.3" height="3.3" fill="#fff" stroke="#000" stroke-width="1.4"/>
<rect x="145.85" y="165.65" width="3.3" height="3.3" fill="#fff" stroke="#000" stroke-width="1.4"/>
<rect x="141.75" y="176.05" width="3.3" height="3.3" fill="#fff" stroke="#000" stroke-width="1.4"/>
<rect x="159.65" y="176.05" width="3.3" height="3.3" fill="#fff" stroke="#000" stroke-width="1.4"/>
<rect x="152.75" y="156.45" width="3.3" height="3.3" fill="#fff" stroke="#000" stroke-width="1.4"/>
<rect x="165.25" y="181.75" width="3.3" height="3.3" fill="#fff" stroke="#000" stroke-width="1.4"/>
</g>
<rect x="357.90" y="125.60" width="4.2" height="4.2" fill="#000"/>
<rect x="330.90" y="152.70" width="4.2" height="4.2" fill="#000"/>
<rect x="341.90" y="168.90" width="4.2" height="4.2" fill="#000"/>
<rect x="340.10" y="173.50" width="4.2" height="4.2" fill="#000"/>
<rect x="336.10" y="179.30" width="4.2" height="4.2" fill="#000"/>
<rect x="351.80" y="163.60" width="4.2" height="4.2" fill="#000"/>
<rect x="357.30" y="171.20" width="4.2" height="4.2" fill="#000"/>
<rect x="367.40" y="155.50" width="4.2" height="4.2" fill="#000"/>
<rect x="365.90" y="159.70" width="4.2" height="4.2" fill="#000"/>
<rect x="367.40" y="161.70" width="4.2" height="4.2" fill="#000"/>
<rect x="369.70" y="163.20" width="4.2" height="4.2" fill="#000"/>
<rect x="362.50" y="164.70" width="4.2" height="4.2" fill="#000"/>
<rect x="362.50" y="167.00" width="4.2" height="4.2" fill="#000"/>
<rect x="362.50" y="170.10" width="4.2" height="4.2" fill="#000"/>
<rect x="369.00" y="167.80" width="4.2" height="4.2" fill="#000"/>
<rect x="378.20" y="160.10" width="4.2" height="4.2" fill="#000"/>
<rect x="379.70" y="166.30" width="4.2" height="4.2" fill="#000"/>
<rect x="373.60" y="170.10" width="4.2" height="4.2" fill="#000"/>
<rect x="375.90" y="171.90" width="4.2" height="4.2" fill="#000"/>
<rect x="376.60" y="173.90" width="4.2" height="4.2" fill="#000"/>
<rect x="374.30" y="174.70" width="4.2" height="4.2" fill="#000"/>
<rect x="362.00" y="175.50" width="4.2" height="4.2" fill="#000"/>
<rect x="365.10" y="175.00" width="4.2" height="4.2" fill="#000"/>
<rect x="371.30" y="177.50" width="4.2" height="4.2" fill="#000"/>
<rect x="382.80" y="179.30" width="4.2" height="4.2" fill="#000"/>
<rect x="436.60" y="41.80" width="4.2" height="4.2" fill="#000"/>
<rect x="424.70" y="60.40" width="4.2" height="4.2" fill="#000"/>
<rect x="440.10" y="60.10" width="4.2" height="4.2" fill="#000"/>
<rect x="443.00" y="58.70" width="4.2" height="4.2" fill="#000"/>
<rect x="445.20" y="66.40" width="4.2" height="4.2" fill="#000"/>
<rect x="438.70" y="72.60" width="4.2" height="4.2" fill="#000"/>
<rect x="444.40" y="76.40" width="4.2" height="4.2" fill="#000"/>
<rect x="449.50" y="77.60" width="4.2" height="4.2" fill="#000"/>
<rect x="453.40" y="75.70" width="4.2" height="4.2" fill="#000"/>
<rect x="440.40" y="93.50" width="4.2" height="4.2" fill="#000"/>
<rect x="439.00" y="101.80" width="4.2" height="4.2" fill="#000"/>
<rect x="440.40" y="109.20" width="4.2" height="4.2" fill="#000"/>
<rect x="456.50" y="110.20" width="4.2" height="4.2" fill="#000"/>
<rect x="459.20" y="108.40" width="4.2" height="4.2" fill="#000"/>
<rect x="472.50" y="108.10" width="4.2" height="4.2" fill="#000"/>
<rect x="477.20" y="113.70" width="4.2" height="4.2" fill="#000"/>
<rect x="442.10" y="115.50" width="4.2" height="4.2" fill="#000"/>
<rect x="455.70" y="114.60" width="4.2" height="4.2" fill="#000"/>
<rect x="450.50" y="118.20" width="4.2" height="4.2" fill="#000"/>
<rect x="434.80" y="91.00" width="4.2" height="4.2" fill="#000"/>
<rect x="434.80" y="95.10" width="4.2" height="4.2" fill="#000"/>
<rect x="435.90" y="99.20" width="4.2" height="4.2" fill="#000"/>
<rect x="432.40" y="102.70" width="4.2" height="4.2" fill="#000"/>
<rect x="423.40" y="101.50" width="4.2" height="4.2" fill="#000"/>
<rect x="422.90" y="105.00" width="4.2" height="4.2" fill="#000"/>
<rect x="414.10" y="107.90" width="4.2" height="4.2" fill="#000"/>
<rect x="414.10" y="112.00" width="4.2" height="4.2" fill="#000"/>
<rect x="428.90" y="111.00" width="4.2" height="4.2" fill="#000"/>
<rect x="429.90" y="117.20" width="4.2" height="4.2" fill="#000"/>
<rect x="403.60" y="120.10" width="4.2" height="4.2" fill="#000"/>
<rect x="414.10" y="120.30" width="4.2" height="4.2" fill="#000"/>
<rect x="431.90" y="121.50" width="4.2" height="4.2" fill="#000"/>
<rect x="435.00" y="123.10" width="4.2" height="4.2" fill="#000"/>
<rect x="432.50" y="125.30" width="4.2" height="4.2" fill="#000"/>
<rect x="419.80" y="125.80" width="4.2" height="4.2" fill="#000"/>
<rect x="421.60" y="125.10" width="4.2" height="4.2" fill="#000"/>
<rect x="413.30" y="127.10" width="4.2" height="4.2" fill="#000"/>
<rect x="441.50" y="127.80" width="4.2" height="4.2" fill="#000"/>
<rect x="418.10" y="131.30" width="4.2" height="4.2" fill="#000"/>
<rect x="428.40" y="130.00" width="4.2" height="4.2" fill="#000"/>
<rect x="445.10" y="121.90" width="4.2" height="4.2" fill="#000"/>
<rect x="466.40" y="124.40" width="4.2" height="4.2" fill="#000"/>
<rect x="471.10" y="127.70" width="4.2" height="4.2" fill="#000"/>
<rect x="476.80" y="123.40" width="4.2" height="4.2" fill="#000"/>
<rect x="446.60" y="127.20" width="4.2" height="4.2" fill="#000"/>
<rect x="449.30" y="127.90" width="4.2" height="4.2" fill="#000"/>
<rect x="455.90" y="131.10" width="4.2" height="4.2" fill="#000"/>
<rect x="457.20" y="137.40" width="4.2" height="4.2" fill="#000"/>
<rect x="456.30" y="140.50" width="4.2" height="4.2" fill="#000"/>
<rect x="453.10" y="152.50" width="4.2" height="4.2" fill="#000"/>
<rect x="453.90" y="154.80" width="4.2" height="4.2" fill="#000"/>
<rect x="456.30" y="158.80" width="4.2" height="4.2" fill="#000"/>
<rect x="448.80" y="160.90" width="4.2" height="4.2" fill="#000"/>
<rect x="452.00" y="160.90" width="4.2" height="4.2" fill="#000"/>
<rect x="462.70" y="162.00" width="4.2" height="4.2" fill="#000"/>
<rect x="466.40" y="162.50" width="4.2" height="4.2" fill="#000"/>
<rect x="462.20" y="166.20" width="4.2" height="4.2" fill="#000"/>
<rect x="481.90" y="164.60" width="4.2" height="4.2" fill="#000"/>
<rect x="448.80" y="165.90" width="4.2" height="4.2" fill="#000"/>
<rect x="453.60" y="164.60" width="4.2" height="4.2" fill="#000"/>
<rect x="456.30" y="163.60" width="4.2" height="4.2" fill="#000"/>
<rect x="455.70" y="167.30" width="4.2" height="4.2" fill="#000"/>
<rect x="476.60" y="170.50" width="4.2" height="4.2" fill="#000"/>
<rect x="449.90" y="171.60" width="4.2" height="4.2" fill="#000"/>
<rect x="453.60" y="173.20" width="4.2" height="4.2" fill="#000"/>
<rect x="457.30" y="172.10" width="4.2" height="4.2" fill="#000"/>
<rect x="455.70" y="177.50" width="4.2" height="4.2" fill="#000"/>
<rect x="466.40" y="176.90" width="4.2" height="4.2" fill="#000"/>
<rect x="457.40" y="172.30" width="4.2" height="4.2" fill="#000"/>
<rect x="455.10" y="177.20" width="4.2" height="4.2" fill="#000"/>
<rect x="447.90" y="175.90" width="4.2" height="4.2" fill="#000"/>
<rect x="450.90" y="177.40" width="4.2" height="4.2" fill="#000"/>
<rect x="449.40" y="174.40" width="4.2" height="4.2" fill="#000"/>
<rect x="452.90" y="168.90" width="4.2" height="4.2" fill="#000"/>
<rect x="394.90" y="165.50" width="4.2" height="4.2" fill="#000"/>
<rect x="399.90" y="165.50" width="4.2" height="4.2" fill="#000"/>
<rect x="403.90" y="163.00" width="4.2" height="4.2" fill="#000"/>
<rect x="391.80" y="170.20" width="4.2" height="4.2" fill="#000"/>
<rect x="393.40" y="174.20" width="4.2" height="4.2" fill="#000"/>
<rect x="398.10" y="172.40" width="4.2" height="4.2" fill="#000"/>
<rect x="401.70" y="168.80" width="4.2" height="4.2" fill="#000"/>
<rect x="402.40" y="171.60" width="4.2" height="4.2" fill="#000"/>
<rect x="402.80" y="175.30" width="4.2" height="4.2" fill="#000"/>
<rect x="396.70" y="176.70" width="4.2" height="4.2" fill="#000"/>
<rect x="399.60" y="177.30" width="4.2" height="4.2" fill="#000"/>
<rect x="406.00" y="170.90" width="4.2" height="4.2" fill="#000"/>
<rect x="406.80" y="176.00" width="4.2" height="4.2" fill="#000"/>
<rect x="408.90" y="170.20" width="4.2" height="4.2" fill="#000"/>
<rect x="409.60" y="174.50" width="4.2" height="4.2" fill="#000"/>
<rect x="408.60" y="178.30" width="4.2" height="4.2" fill="#000"/>
<rect x="414.70" y="170.90" width="4.2" height="4.2" fill="#000"/>
<rect x="414.70" y="175.50" width="4.2" height="4.2" fill="#000"/>
<rect x="414.70" y="178.90" width="4.2" height="4.2" fill="#000"/>
<rect x="417.10" y="167.30" width="4.2" height="4.2" fill="#000"/>
<rect x="418.90" y="162.90" width="4.2" height="4.2" fill="#000"/>
<rect x="418.90" y="166.40" width="4.2" height="4.2" fill="#000"/>
<rect x="418.90" y="169.90" width="4.2" height="4.2" fill="#000"/>
<rect x="418.90" y="173.40" width="4.2" height="4.2" fill="#000"/>
<rect x="418.90" y="176.90" width="4.2" height="4.2" fill="#000"/>
<rect x="418.90" y="179.90" width="4.2" height="4.2" fill="#000"/>
<rect x="404.90" y="166.40" width="4.2" height="4.2" fill="#000"/>
<rect x="410.90" y="180.10" width="4.2" height="4.2" fill="#000"/>
<rect x="403.40" y="179.90" width="4.2" height="4.2" fill="#000"/>
<rect x="421.62" y="162.84" width="4.2" height="4.2" fill="#000"/>
<rect x="430.16" y="163.19" width="4.2" height="4.2" fill="#000"/>
<rect x="433.49" y="163.41" width="4.2" height="4.2" fill="#000"/>
<rect x="437.56" y="163.29" width="4.2" height="4.2" fill="#000"/>
<rect x="423.78" y="167.92" width="4.2" height="4.2" fill="#000"/>
<rect x="427.40" y="166.96" width="4.2" height="4.2" fill="#000"/>
<rect x="432.30" y="168.12" width="4.2" height="4.2" fill="#000"/>
<rect x="436.32" y="167.23" width="4.2" height="4.2" fill="#000"/>
<rect x="441.06" y="166.67" width="4.2" height="4.2" fill="#000"/>
<rect x="422.47" y="171.06" width="4.2" height="4.2" fill="#000"/>
<rect x="425.43" y="170.79" width="4.2" height="4.2" fill="#000"/>
<rect x="429.79" y="171.91" width="4.2" height="4.2" fill="#000"/>
<rect x="433.69" y="171.53" width="4.2" height="4.2" fill="#000"/>
<rect x="438.52" y="171.20" width="4.2" height="4.2" fill="#000"/>
<rect x="442.48" y="170.70" width="4.2" height="4.2" fill="#000"/>
<rect x="423.20" y="174.93" width="4.2" height="4.2" fill="#000"/>
<rect x="428.29" y="175.28" width="4.2" height="4.2" fill="#000"/>
<rect x="431.80" y="175.54" width="4.2" height="4.2" fill="#000"/>
<rect x="436.13" y="175.08" width="4.2" height="4.2" fill="#000"/>
<rect x="440.77" y="175.72" width="4.2" height="4.2" fill="#000"/>
<rect x="421.49" y="179.52" width="4.2" height="4.2" fill="#000"/>
<rect x="426.04" y="180.00" width="4.2" height="4.2" fill="#000"/>
<rect x="430.47" y="179.06" width="4.2" height="4.2" fill="#000"/>
<rect x="434.97" y="178.79" width="4.2" height="4.2" fill="#000"/>
<rect x="438.17" y="179.81" width="4.2" height="4.2" fill="#000"/>
<rect x="441.84" y="179.38" width="4.2" height="4.2" fill="#000"/>
<rect x="425.30" y="137.20" width="4.2" height="4.2" fill="#000"/>
<rect x="428.70" y="133.90" width="4.2" height="4.2" fill="#000"/>
<rect x="434.00" y="135.30" width="4.2" height="4.2" fill="#000"/>
<rect x="438.30" y="135.30" width="4.2" height="4.2" fill="#000"/>
<rect x="444.10" y="140.60" width="4.2" height="4.2" fill="#000"/>
<rect x="446.90" y="146.40" width="4.2" height="4.2" fill="#000"/>
<rect x="431.10" y="139.20" width="4.2" height="4.2" fill="#000"/>
<rect x="428.70" y="141.60" width="4.2" height="4.2" fill="#000"/>
<rect x="434.90" y="144.40" width="4.2" height="4.2" fill="#000"/>
<rect x="440.70" y="145.90" width="4.2" height="4.2" fill="#000"/>
<rect x="408.00" y="146.40" width="4.2" height="4.2" fill="#000"/>
<rect x="406.10" y="148.30" width="4.2" height="4.2" fill="#000"/>
<rect x="406.10" y="151.20" width="4.2" height="4.2" fill="#000"/>
<rect x="413.80" y="144.90" width="4.2" height="4.2" fill="#000"/>
<rect x="413.80" y="148.30" width="4.2" height="4.2" fill="#000"/>
<rect x="415.70" y="152.10" width="4.2" height="4.2" fill="#000"/>
<rect x="413.80" y="155.50" width="4.2" height="4.2" fill="#000"/>
<rect x="413.80" y="160.30" width="4.2" height="4.2" fill="#000"/>
<rect x="420.00" y="146.40" width="4.2" height="4.2" fill="#000"/>
<rect x="422.40" y="145.40" width="4.2" height="4.2" fill="#000"/>
<rect x="421.00" y="148.30" width="4.2" height="4.2" fill="#000"/>
<rect x="425.80" y="146.40" width="4.2" height="4.2" fill="#000"/>
<rect x="426.70" y="148.80" width="4.2" height="4.2" fill="#000"/>
<rect x="429.60" y="150.70" width="4.2" height="4.2" fill="#000"/>
<rect x="434.40" y="150.70" width="4.2" height="4.2" fill="#000"/>
<rect x="437.30" y="152.60" width="4.2" height="4.2" fill="#000"/>
<rect x="440.20" y="152.10" width="4.2" height="4.2" fill="#000"/>
<rect x="403.70" y="161.70" width="4.2" height="4.2" fill="#000"/>
<rect x="421.90" y="159.90" width="4.2" height="4.2" fill="#000"/>
<rect x="424.90" y="157.90" width="4.2" height="4.2" fill="#000"/>
<rect x="427.90" y="155.90" width="4.2" height="4.2" fill="#000"/>
<rect x="430.90" y="153.90" width="4.2" height="4.2" fill="#000"/>
<rect x="422.90" y="155.40" width="4.2" height="4.2" fill="#000"/>
<rect x="425.90" y="153.40" width="4.2" height="4.2" fill="#000"/>
<rect x="428.90" y="158.90" width="4.2" height="4.2" fill="#000"/>
<rect x="425.40" y="161.40" width="4.2" height="4.2" fill="#000"/>
<rect x="420.40" y="161.90" width="4.2" height="4.2" fill="#000"/>
<rect x="432.40" y="157.40" width="4.2" height="4.2" fill="#000"/>
<rect x="418.40" y="159.40" width="4.2" height="4.2" fill="#000"/>
<line x1="170.10" y1="280.30" x2="221.90" y2="280.30" stroke="#999" stroke-width="1" />
<line x1="195.70" y1="268.50" x2="195.70" y2="291.60" stroke="#999" stroke-width="1" />
<line x1="170.10" y1="279.00" x2="170.10" y2="281.60" stroke="#999" stroke-width="1" />
<line x1="221.90" y1="279.00" x2="221.90" y2="281.60" stroke="#999" stroke-width="1" />
<line x1="194.40" y1="268.50" x2="197.00" y2="268.50" stroke="#999" stroke-width="1" />
<line x1="194.40" y1="291.60" x2="197.00" y2="291.60" stroke="#999" stroke-width="1" />
<line x1="111.50" y1="297.60" x2="134.00" y2="297.60" stroke="#999" stroke-width="1" />
<line x1="122.60" y1="283.40" x2="122.60" y2="312.00" stroke="#999" stroke-width="1" />
<line x1="111.50" y1="296.30" x2="111.50" y2="298.90" stroke="#999" stroke-width="1" />
<line x1="134.00" y1="296.30" x2="134.00" y2="298.90" stroke="#999" stroke-width="1" />
<line x1="121.30" y1="283.40" x2="123.90" y2="283.40" stroke="#999" stroke-width="1" />
<line x1="121.30" y1="312.00" x2="123.90" y2="312.00" stroke="#999" stroke-width="1" />
<line x1="132.50" y1="308.70" x2="155.50" y2="308.70" stroke="#999" stroke-width="1" />
<line x1="144.00" y1="292.20" x2="144.00" y2="325.00" stroke="#999" stroke-width="1" />
<line x1="132.50" y1="307.40" x2="132.50" y2="310.00" stroke="#999" stroke-width="1" />
<line x1="155.50" y1="307.40" x2="155.50" y2="310.00" stroke="#999" stroke-width="1" />
<line x1="142.70" y1="292.20" x2="145.30" y2="292.20" stroke="#999" stroke-width="1" />
<line x1="142.70" y1="325.00" x2="145.30" y2="325.00" stroke="#999" stroke-width="1" />
<line x1="122.50" y1="321.10" x2="165.40" y2="321.10" stroke="#999" stroke-width="1" />
<line x1="143.80" y1="303.50" x2="143.80" y2="338.70" stroke="#999" stroke-width="1" />
<line x1="122.50" y1="319.80" x2="122.50" y2="322.40" stroke="#999" stroke-width="1" />
<line x1="165.40" y1="319.80" x2="165.40" y2="322.40" stroke="#999" stroke-width="1" />
<line x1="142.50" y1="303.50" x2="145.10" y2="303.50" stroke="#999" stroke-width="1" />
<line x1="142.50" y1="338.70" x2="145.10" y2="338.70" stroke="#999" stroke-width="1" />
<line x1="93.60" y1="329.10" x2="119.80" y2="329.10" stroke="#999" stroke-width="1" />
<line x1="106.70" y1="304.20" x2="106.70" y2="354.00" stroke="#999" stroke-width="1" />
<line x1="93.60" y1="327.80" x2="93.60" y2="330.40" stroke="#999" stroke-width="1" />
<line x1="119.80" y1="327.80" x2="119.80" y2="330.40" stroke="#999" stroke-width="1" />
<line x1="105.40" y1="304.20" x2="108.00" y2="304.20" stroke="#999" stroke-width="1" />
<line x1="105.40" y1="354.00" x2="108.00" y2="354.00" stroke="#999" stroke-width="1" />
<line x1="122.70" y1="333.50" x2="136.70" y2="333.50" stroke="#999" stroke-width="1" />
<line x1="129.80" y1="319.60" x2="129.80" y2="347.40" stroke="#999" stroke-width="1" />
<line x1="122.70" y1="332.20" x2="122.70" y2="334.80" stroke="#999" stroke-width="1" />
<line x1="136.70" y1="332.20" x2="136.70" y2="334.80" stroke="#999" stroke-width="1" />
<line x1="128.50" y1="319.60" x2="131.10" y2="319.60" stroke="#999" stroke-width="1" />
<line x1="128.50" y1="347.40" x2="131.10" y2="347.40" stroke="#999" stroke-width="1" />
<line x1="139.70" y1="338.10" x2="174.20" y2="338.10" stroke="#999" stroke-width="1" />
<line x1="157.10" y1="326.50" x2="157.10" y2="350.10" stroke="#999" stroke-width="1" />
<line x1="139.70" y1="336.80" x2="139.70" y2="339.40" stroke="#999" stroke-width="1" />
<line x1="174.20" y1="336.80" x2="174.20" y2="339.40" stroke="#999" stroke-width="1" />
<line x1="155.80" y1="326.50" x2="158.40" y2="326.50" stroke="#999" stroke-width="1" />
<line x1="155.80" y1="350.10" x2="158.40" y2="350.10" stroke="#999" stroke-width="1" />
<line x1="89.80" y1="343.40" x2="123.00" y2="343.40" stroke="#999" stroke-width="1" />
<line x1="106.40" y1="336.00" x2="106.40" y2="351.00" stroke="#999" stroke-width="1" />
<line x1="89.80" y1="342.10" x2="89.80" y2="344.70" stroke="#999" stroke-width="1" />
<line x1="123.00" y1="342.10" x2="123.00" y2="344.70" stroke="#999" stroke-width="1" />
<line x1="105.10" y1="336.00" x2="107.70" y2="336.00" stroke="#999" stroke-width="1" />
<line x1="105.10" y1="351.00" x2="107.70" y2="351.00" stroke="#999" stroke-width="1" />
<line x1="101.00" y1="342.80" x2="125.60" y2="342.80" stroke="#999" stroke-width="1" />
<line x1="113.30" y1="328.40" x2="113.30" y2="357.00" stroke="#999" stroke-width="1" />
<line x1="101.00" y1="341.50" x2="101.00" y2="344.10" stroke="#999" stroke-width="1" />
<line x1="125.60" y1="341.50" x2="125.60" y2="344.10" stroke="#999" stroke-width="1" />
<line x1="112.00" y1="328.40" x2="114.60" y2="328.40" stroke="#999" stroke-width="1" />
<line x1="112.00" y1="357.00" x2="114.60" y2="357.00" stroke="#999" stroke-width="1" />
<line x1="112.00" y1="348.20" x2="133.00" y2="348.20" stroke="#999" stroke-width="1" />
<line x1="122.50" y1="326.30" x2="122.50" y2="368.00" stroke="#999" stroke-width="1" />
<line x1="112.00" y1="346.90" x2="112.00" y2="349.50" stroke="#999" stroke-width="1" />
<line x1="133.00" y1="346.90" x2="133.00" y2="349.50" stroke="#999" stroke-width="1" />
<line x1="121.20" y1="326.30" x2="123.80" y2="326.30" stroke="#999" stroke-width="1" />
<line x1="121.20" y1="368.00" x2="123.80" y2="368.00" stroke="#999" stroke-width="1" />
<line x1="89.20" y1="360.20" x2="111.70" y2="360.20" stroke="#999" stroke-width="1" />
<line x1="100.50" y1="353.30" x2="100.50" y2="366.90" stroke="#999" stroke-width="1" />
<line x1="89.20" y1="358.90" x2="89.20" y2="361.50" stroke="#999" stroke-width="1" />
<line x1="111.70" y1="358.90" x2="111.70" y2="361.50" stroke="#999" stroke-width="1" />
<line x1="99.20" y1="353.30" x2="101.80" y2="353.30" stroke="#999" stroke-width="1" />
<line x1="99.20" y1="366.90" x2="101.80" y2="366.90" stroke="#999" stroke-width="1" />
<line x1="103.00" y1="362.90" x2="142.00" y2="362.90" stroke="#999" stroke-width="1" />
<line x1="118.30" y1="352.00" x2="118.30" y2="373.00" stroke="#999" stroke-width="1" />
<line x1="103.00" y1="361.60" x2="103.00" y2="364.20" stroke="#999" stroke-width="1" />
<line x1="142.00" y1="361.60" x2="142.00" y2="364.20" stroke="#999" stroke-width="1" />
<line x1="117.00" y1="352.00" x2="119.60" y2="352.00" stroke="#999" stroke-width="1" />
<line x1="117.00" y1="373.00" x2="119.60" y2="373.00" stroke="#999" stroke-width="1" />
<line x1="107.00" y1="365.20" x2="165.40" y2="365.20" stroke="#999" stroke-width="1" />
<line x1="136.40" y1="350.10" x2="136.40" y2="381.00" stroke="#999" stroke-width="1" />
<line x1="107.00" y1="363.90" x2="107.00" y2="366.50" stroke="#999" stroke-width="1" />
<line x1="165.40" y1="363.90" x2="165.40" y2="366.50" stroke="#999" stroke-width="1" />
<line x1="135.10" y1="350.10" x2="137.70" y2="350.10" stroke="#999" stroke-width="1" />
<line x1="135.10" y1="381.00" x2="137.70" y2="381.00" stroke="#999" stroke-width="1" />
<line x1="99.60" y1="366.30" x2="131.00" y2="366.30" stroke="#999" stroke-width="1" />
<line x1="115.50" y1="360.00" x2="115.50" y2="372.00" stroke="#999" stroke-width="1" />
<line x1="99.60" y1="365.00" x2="99.60" y2="367.60" stroke="#999" stroke-width="1" />
<line x1="131.00" y1="365.00" x2="131.00" y2="367.60" stroke="#999" stroke-width="1" />
<line x1="114.20" y1="360.00" x2="116.80" y2="360.00" stroke="#999" stroke-width="1" />
<line x1="114.20" y1="372.00" x2="116.80" y2="372.00" stroke="#999" stroke-width="1" />
<line x1="97.30" y1="371.30" x2="137.70" y2="371.30" stroke="#999" stroke-width="1" />
<line x1="117.50" y1="360.00" x2="117.50" y2="382.50" stroke="#999" stroke-width="1" />
<line x1="97.30" y1="370.00" x2="97.30" y2="372.60" stroke="#999" stroke-width="1" />
<line x1="137.70" y1="370.00" x2="137.70" y2="372.60" stroke="#999" stroke-width="1" />
<line x1="116.20" y1="360.00" x2="118.80" y2="360.00" stroke="#999" stroke-width="1" />
<line x1="116.20" y1="382.50" x2="118.80" y2="382.50" stroke="#999" stroke-width="1" />
<line x1="107.00" y1="369.10" x2="145.40" y2="369.10" stroke="#999" stroke-width="1" />
<line x1="126.30" y1="360.60" x2="126.30" y2="377.30" stroke="#999" stroke-width="1" />
<line x1="107.00" y1="367.80" x2="107.00" y2="370.40" stroke="#999" stroke-width="1" />
<line x1="145.40" y1="367.80" x2="145.40" y2="370.40" stroke="#999" stroke-width="1" />
<line x1="125.00" y1="360.60" x2="127.60" y2="360.60" stroke="#999" stroke-width="1" />
<line x1="125.00" y1="377.30" x2="127.60" y2="377.30" stroke="#999" stroke-width="1" />
<line x1="84.40" y1="377.60" x2="130.20" y2="377.60" stroke="#999" stroke-width="1" />
<line x1="106.80" y1="372.00" x2="106.80" y2="383.00" stroke="#999" stroke-width="1" />
<line x1="84.40" y1="376.30" x2="84.40" y2="378.90" stroke="#999" stroke-width="1" />
<line x1="130.20" y1="376.30" x2="130.20" y2="378.90" stroke="#999" stroke-width="1" />
<line x1="105.50" y1="372.00" x2="108.10" y2="372.00" stroke="#999" stroke-width="1" />
<line x1="105.50" y1="383.00" x2="108.10" y2="383.00" stroke="#999" stroke-width="1" />
<line x1="428.30" y1="276.30" x2="481.20" y2="276.30" stroke="#999" stroke-width="1" />
<line x1="454.60" y1="264.40" x2="454.60" y2="288.40" stroke="#999" stroke-width="1" />
<line x1="428.30" y1="275.00" x2="428.30" y2="277.60" stroke="#999" stroke-width="1" />
<line x1="481.20" y1="275.00" x2="481.20" y2="277.60" stroke="#999" stroke-width="1" />
<line x1="453.30" y1="264.40" x2="455.90" y2="264.40" stroke="#999" stroke-width="1" />
<line x1="453.30" y1="288.40" x2="455.90" y2="288.40" stroke="#999" stroke-width="1" />
<line x1="391.00" y1="307.40" x2="414.30" y2="307.40" stroke="#999" stroke-width="1" />
<line x1="402.50" y1="291.40" x2="402.50" y2="320.00" stroke="#999" stroke-width="1" />
<line x1="391.00" y1="306.10" x2="391.00" y2="308.70" stroke="#999" stroke-width="1" />
<line x1="414.30" y1="306.10" x2="414.30" y2="308.70" stroke="#999" stroke-width="1" />
<line x1="401.20" y1="291.40" x2="403.80" y2="291.40" stroke="#999" stroke-width="1" />
<line x1="401.20" y1="320.00" x2="403.80" y2="320.00" stroke="#999" stroke-width="1" />
<line x1="380.60" y1="322.10" x2="419.60" y2="322.10" stroke="#999" stroke-width="1" />
<line x1="402.50" y1="309.00" x2="402.50" y2="335.30" stroke="#999" stroke-width="1" />
<line x1="380.60" y1="320.80" x2="380.60" y2="323.40" stroke="#999" stroke-width="1" />
<line x1="419.60" y1="320.80" x2="419.60" y2="323.40" stroke="#999" stroke-width="1" />
<line x1="401.20" y1="309.00" x2="403.80" y2="309.00" stroke="#999" stroke-width="1" />
<line x1="401.20" y1="335.30" x2="403.80" y2="335.30" stroke="#999" stroke-width="1" />
<line x1="398.00" y1="334.60" x2="432.90" y2="334.60" stroke="#999" stroke-width="1" />
<line x1="415.40" y1="322.40" x2="415.40" y2="346.50" stroke="#999" stroke-width="1" />
<line x1="398.00" y1="333.30" x2="398.00" y2="335.90" stroke="#999" stroke-width="1" />
<line x1="432.90" y1="333.30" x2="432.90" y2="335.90" stroke="#999" stroke-width="1" />
<line x1="414.10" y1="322.40" x2="416.70" y2="322.40" stroke="#999" stroke-width="1" />
<line x1="414.10" y1="346.50" x2="416.70" y2="346.50" stroke="#999" stroke-width="1" />
<line x1="381.60" y1="336.80" x2="398.20" y2="336.80" stroke="#999" stroke-width="1" />
<line x1="388.40" y1="326.50" x2="388.40" y2="347.40" stroke="#999" stroke-width="1" />
<line x1="381.60" y1="335.50" x2="381.60" y2="338.10" stroke="#999" stroke-width="1" />
<line x1="398.20" y1="335.50" x2="398.20" y2="338.10" stroke="#999" stroke-width="1" />
<line x1="387.10" y1="326.50" x2="389.70" y2="326.50" stroke="#999" stroke-width="1" />
<line x1="387.10" y1="347.40" x2="389.70" y2="347.40" stroke="#999" stroke-width="1" />
<line x1="359.30" y1="341.30" x2="383.10" y2="341.30" stroke="#999" stroke-width="1" />
<line x1="371.40" y1="329.20" x2="371.40" y2="353.70" stroke="#999" stroke-width="1" />
<line x1="359.30" y1="340.00" x2="359.30" y2="342.60" stroke="#999" stroke-width="1" />
<line x1="383.10" y1="340.00" x2="383.10" y2="342.60" stroke="#999" stroke-width="1" />
<line x1="370.10" y1="329.20" x2="372.70" y2="329.20" stroke="#999" stroke-width="1" />
<line x1="370.10" y1="353.70" x2="372.70" y2="353.70" stroke="#999" stroke-width="1" />
<line x1="369.50" y1="347.70" x2="392.10" y2="347.70" stroke="#999" stroke-width="1" />
<line x1="381.30" y1="331.00" x2="381.30" y2="368.80" stroke="#999" stroke-width="1" />
<line x1="369.50" y1="346.40" x2="369.50" y2="349.00" stroke="#999" stroke-width="1" />
<line x1="392.10" y1="346.40" x2="392.10" y2="349.00" stroke="#999" stroke-width="1" />
<line x1="380.00" y1="331.00" x2="382.60" y2="331.00" stroke="#999" stroke-width="1" />
<line x1="380.00" y1="368.80" x2="382.60" y2="368.80" stroke="#999" stroke-width="1" />
<line x1="355.00" y1="358.20" x2="375.00" y2="358.20" stroke="#999" stroke-width="1" />
<line x1="364.90" y1="343.90" x2="364.90" y2="370.30" stroke="#999" stroke-width="1" />
<line x1="355.00" y1="356.90" x2="355.00" y2="359.50" stroke="#999" stroke-width="1" />
<line x1="375.00" y1="356.90" x2="375.00" y2="359.50" stroke="#999" stroke-width="1" />
<line x1="363.60" y1="343.90" x2="366.20" y2="343.90" stroke="#999" stroke-width="1" />
<line x1="363.60" y1="370.30" x2="366.20" y2="370.30" stroke="#999" stroke-width="1" />
<line x1="347.60" y1="361.00" x2="368.70" y2="361.00" stroke="#999" stroke-width="1" />
<line x1="358.40" y1="352.20" x2="358.40" y2="369.60" stroke="#999" stroke-width="1" />
<line x1="347.60" y1="359.70" x2="347.60" y2="362.30" stroke="#999" stroke-width="1" />
<line x1="368.70" y1="359.70" x2="368.70" y2="362.30" stroke="#999" stroke-width="1" />
<line x1="357.10" y1="352.20" x2="359.70" y2="352.20" stroke="#999" stroke-width="1" />
<line x1="357.10" y1="369.60" x2="359.70" y2="369.60" stroke="#999" stroke-width="1" />
<line x1="363.00" y1="361.00" x2="383.00" y2="361.00" stroke="#999" stroke-width="1" />
<line x1="373.20" y1="350.70" x2="373.20" y2="370.30" stroke="#999" stroke-width="1" />
<line x1="363.00" y1="359.70" x2="363.00" y2="362.30" stroke="#999" stroke-width="1" />
<line x1="383.00" y1="359.70" x2="383.00" y2="362.30" stroke="#999" stroke-width="1" />
<line x1="371.90" y1="350.70" x2="374.50" y2="350.70" stroke="#999" stroke-width="1" />
<line x1="371.90" y1="370.30" x2="374.50" y2="370.30" stroke="#999" stroke-width="1" />
<line x1="369.50" y1="360.10" x2="389.10" y2="360.10" stroke="#999" stroke-width="1" />
<line x1="381.30" y1="352.00" x2="381.30" y2="369.60" stroke="#999" stroke-width="1" />
<line x1="369.50" y1="358.80" x2="369.50" y2="361.40" stroke="#999" stroke-width="1" />
<line x1="389.10" y1="358.80" x2="389.10" y2="361.40" stroke="#999" stroke-width="1" />
<line x1="380.00" y1="352.00" x2="382.60" y2="352.00" stroke="#999" stroke-width="1" />
<line x1="380.00" y1="369.60" x2="382.60" y2="369.60" stroke="#999" stroke-width="1" />
<line x1="364.20" y1="367.60" x2="423.50" y2="367.60" stroke="#999" stroke-width="1" />
<line x1="395.20" y1="354.50" x2="395.20" y2="380.20" stroke="#999" stroke-width="1" />
<line x1="364.20" y1="366.30" x2="364.20" y2="368.90" stroke="#999" stroke-width="1" />
<line x1="423.50" y1="366.30" x2="423.50" y2="368.90" stroke="#999" stroke-width="1" />
<line x1="393.90" y1="354.50" x2="396.50" y2="354.50" stroke="#999" stroke-width="1" />
<line x1="393.90" y1="380.20" x2="396.50" y2="380.20" stroke="#999" stroke-width="1" />
<line x1="355.20" y1="373.00" x2="397.00" y2="373.00" stroke="#999" stroke-width="1" />
<line x1="376.00" y1="366.00" x2="376.00" y2="380.00" stroke="#999" stroke-width="1" />
<line x1="355.20" y1="371.70" x2="355.20" y2="374.30" stroke="#999" stroke-width="1" />
<line x1="397.00" y1="371.70" x2="397.00" y2="374.30" stroke="#999" stroke-width="1" />
<line x1="374.70" y1="366.00" x2="377.30" y2="366.00" stroke="#999" stroke-width="1" />
<line x1="374.70" y1="380.00" x2="377.30" y2="380.00" stroke="#999" stroke-width="1" />
<line x1="356.30" y1="377.00" x2="397.00" y2="377.00" stroke="#999" stroke-width="1" />
<line x1="376.60" y1="370.00" x2="376.60" y2="384.00" stroke="#999" stroke-width="1" />
<line x1="356.30" y1="375.70" x2="356.30" y2="378.30" stroke="#999" stroke-width="1" />
<line x1="397.00" y1="375.70" x2="397.00" y2="378.30" stroke="#999" stroke-width="1" />
<line x1="375.30" y1="370.00" x2="377.90" y2="370.00" stroke="#999" stroke-width="1" />
<line x1="375.30" y1="384.00" x2="377.90" y2="384.00" stroke="#999" stroke-width="1" />
<line x1="365.00" y1="379.40" x2="403.00" y2="379.40" stroke="#999" stroke-width="1" />
<line x1="384.40" y1="373.00" x2="384.40" y2="386.00" stroke="#999" stroke-width="1" />
<line x1="365.00" y1="378.10" x2="365.00" y2="380.70" stroke="#999" stroke-width="1" />
<line x1="403.00" y1="378.10" x2="403.00" y2="380.70" stroke="#999" stroke-width="1" />
<line x1="383.10" y1="373.00" x2="385.70" y2="373.00" stroke="#999" stroke-width="1" />
<line x1="383.10" y1="386.00" x2="385.70" y2="386.00" stroke="#999" stroke-width="1" />
<line x1="342.70" y1="381.30" x2="384.60" y2="381.30" stroke="#999" stroke-width="1" />
<line x1="365.50" y1="374.00" x2="365.50" y2="388.80" stroke="#999" stroke-width="1" />
<line x1="342.70" y1="380.00" x2="342.70" y2="382.60" stroke="#999" stroke-width="1" />
<line x1="384.60" y1="380.00" x2="384.60" y2="382.60" stroke="#999" stroke-width="1" />
<line x1="364.20" y1="374.00" x2="366.80" y2="374.00" stroke="#999" stroke-width="1" />
<line x1="364.20" y1="388.80" x2="366.80" y2="388.80" stroke="#999" stroke-width="1" />
<line x1="76.50" y1="375.40" x2="201.70" y2="276.50" stroke="#111" stroke-width="1.6" stroke-dasharray="6.2 4.6"/>
<line x1="348.90" y1="390.80" x2="464.40" y2="283.30" stroke="#111" stroke-width="1.6" stroke-dasharray="6.0 5.0"/>
<rect x="193.05" y="277.65" width="5.3" height="5.3" fill="#000"/>
<rect x="119.95" y="294.95" width="5.3" height="5.3" fill="#000"/>
<rect x="141.35" y="306.05" width="5.3" height="5.3" fill="#000"/>
<rect x="141.15" y="318.45" width="5.3" height="5.3" fill="#000"/>
<rect x="104.05" y="326.45" width="5.3" height="5.3" fill="#000"/>
<rect x="127.15" y="330.85" width="5.3" height="5.3" fill="#000"/>
<rect x="154.45" y="335.45" width="5.3" height="5.3" fill="#000"/>
<rect x="103.75" y="340.75" width="5.3" height="5.3" fill="#000"/>
<rect x="110.65" y="340.15" width="5.3" height="5.3" fill="#000"/>
<rect x="119.85" y="345.55" width="5.3" height="5.3" fill="#000"/>
<rect x="97.85" y="357.55" width="5.3" height="5.3" fill="#000"/>
<rect x="115.65" y="360.25" width="5.3" height="5.3" fill="#000"/>
<rect x="133.75" y="362.55" width="5.3" height="5.3" fill="#000"/>
<rect x="112.85" y="363.65" width="5.3" height="5.3" fill="#000"/>
<rect x="114.85" y="368.65" width="5.3" height="5.3" fill="#000"/>
<rect x="123.65" y="366.45" width="5.3" height="5.3" fill="#000"/>
<rect x="104.15" y="374.95" width="5.3" height="5.3" fill="#000"/>
<rect x="451.95" y="273.65" width="5.3" height="5.3" fill="#000"/>
<rect x="399.85" y="304.75" width="5.3" height="5.3" fill="#000"/>
<rect x="399.85" y="319.45" width="5.3" height="5.3" fill="#000"/>
<rect x="412.75" y="331.95" width="5.3" height="5.3" fill="#000"/>
<rect x="385.75" y="334.15" width="5.3" height="5.3" fill="#000"/>
<rect x="368.75" y="338.65" width="5.3" height="5.3" fill="#000"/>
<rect x="378.65" y="345.05" width="5.3" height="5.3" fill="#000"/>
<rect x="362.25" y="355.55" width="5.3" height="5.3" fill="#000"/>
<rect x="355.75" y="358.35" width="5.3" height="5.3" fill="#000"/>
<rect x="370.55" y="358.35" width="5.3" height="5.3" fill="#000"/>
<rect x="378.65" y="357.45" width="5.3" height="5.3" fill="#000"/>
<rect x="392.55" y="364.95" width="5.3" height="5.3" fill="#000"/>
<rect x="373.35" y="370.35" width="5.3" height="5.3" fill="#000"/>
<rect x="373.95" y="374.35" width="5.3" height="5.3" fill="#000"/>
<rect x="381.75" y="376.75" width="5.3" height="5.3" fill="#000"/>
<rect x="362.85" y="378.65" width="5.3" height="5.3" fill="#000"/>
</svg>
</body></html>
